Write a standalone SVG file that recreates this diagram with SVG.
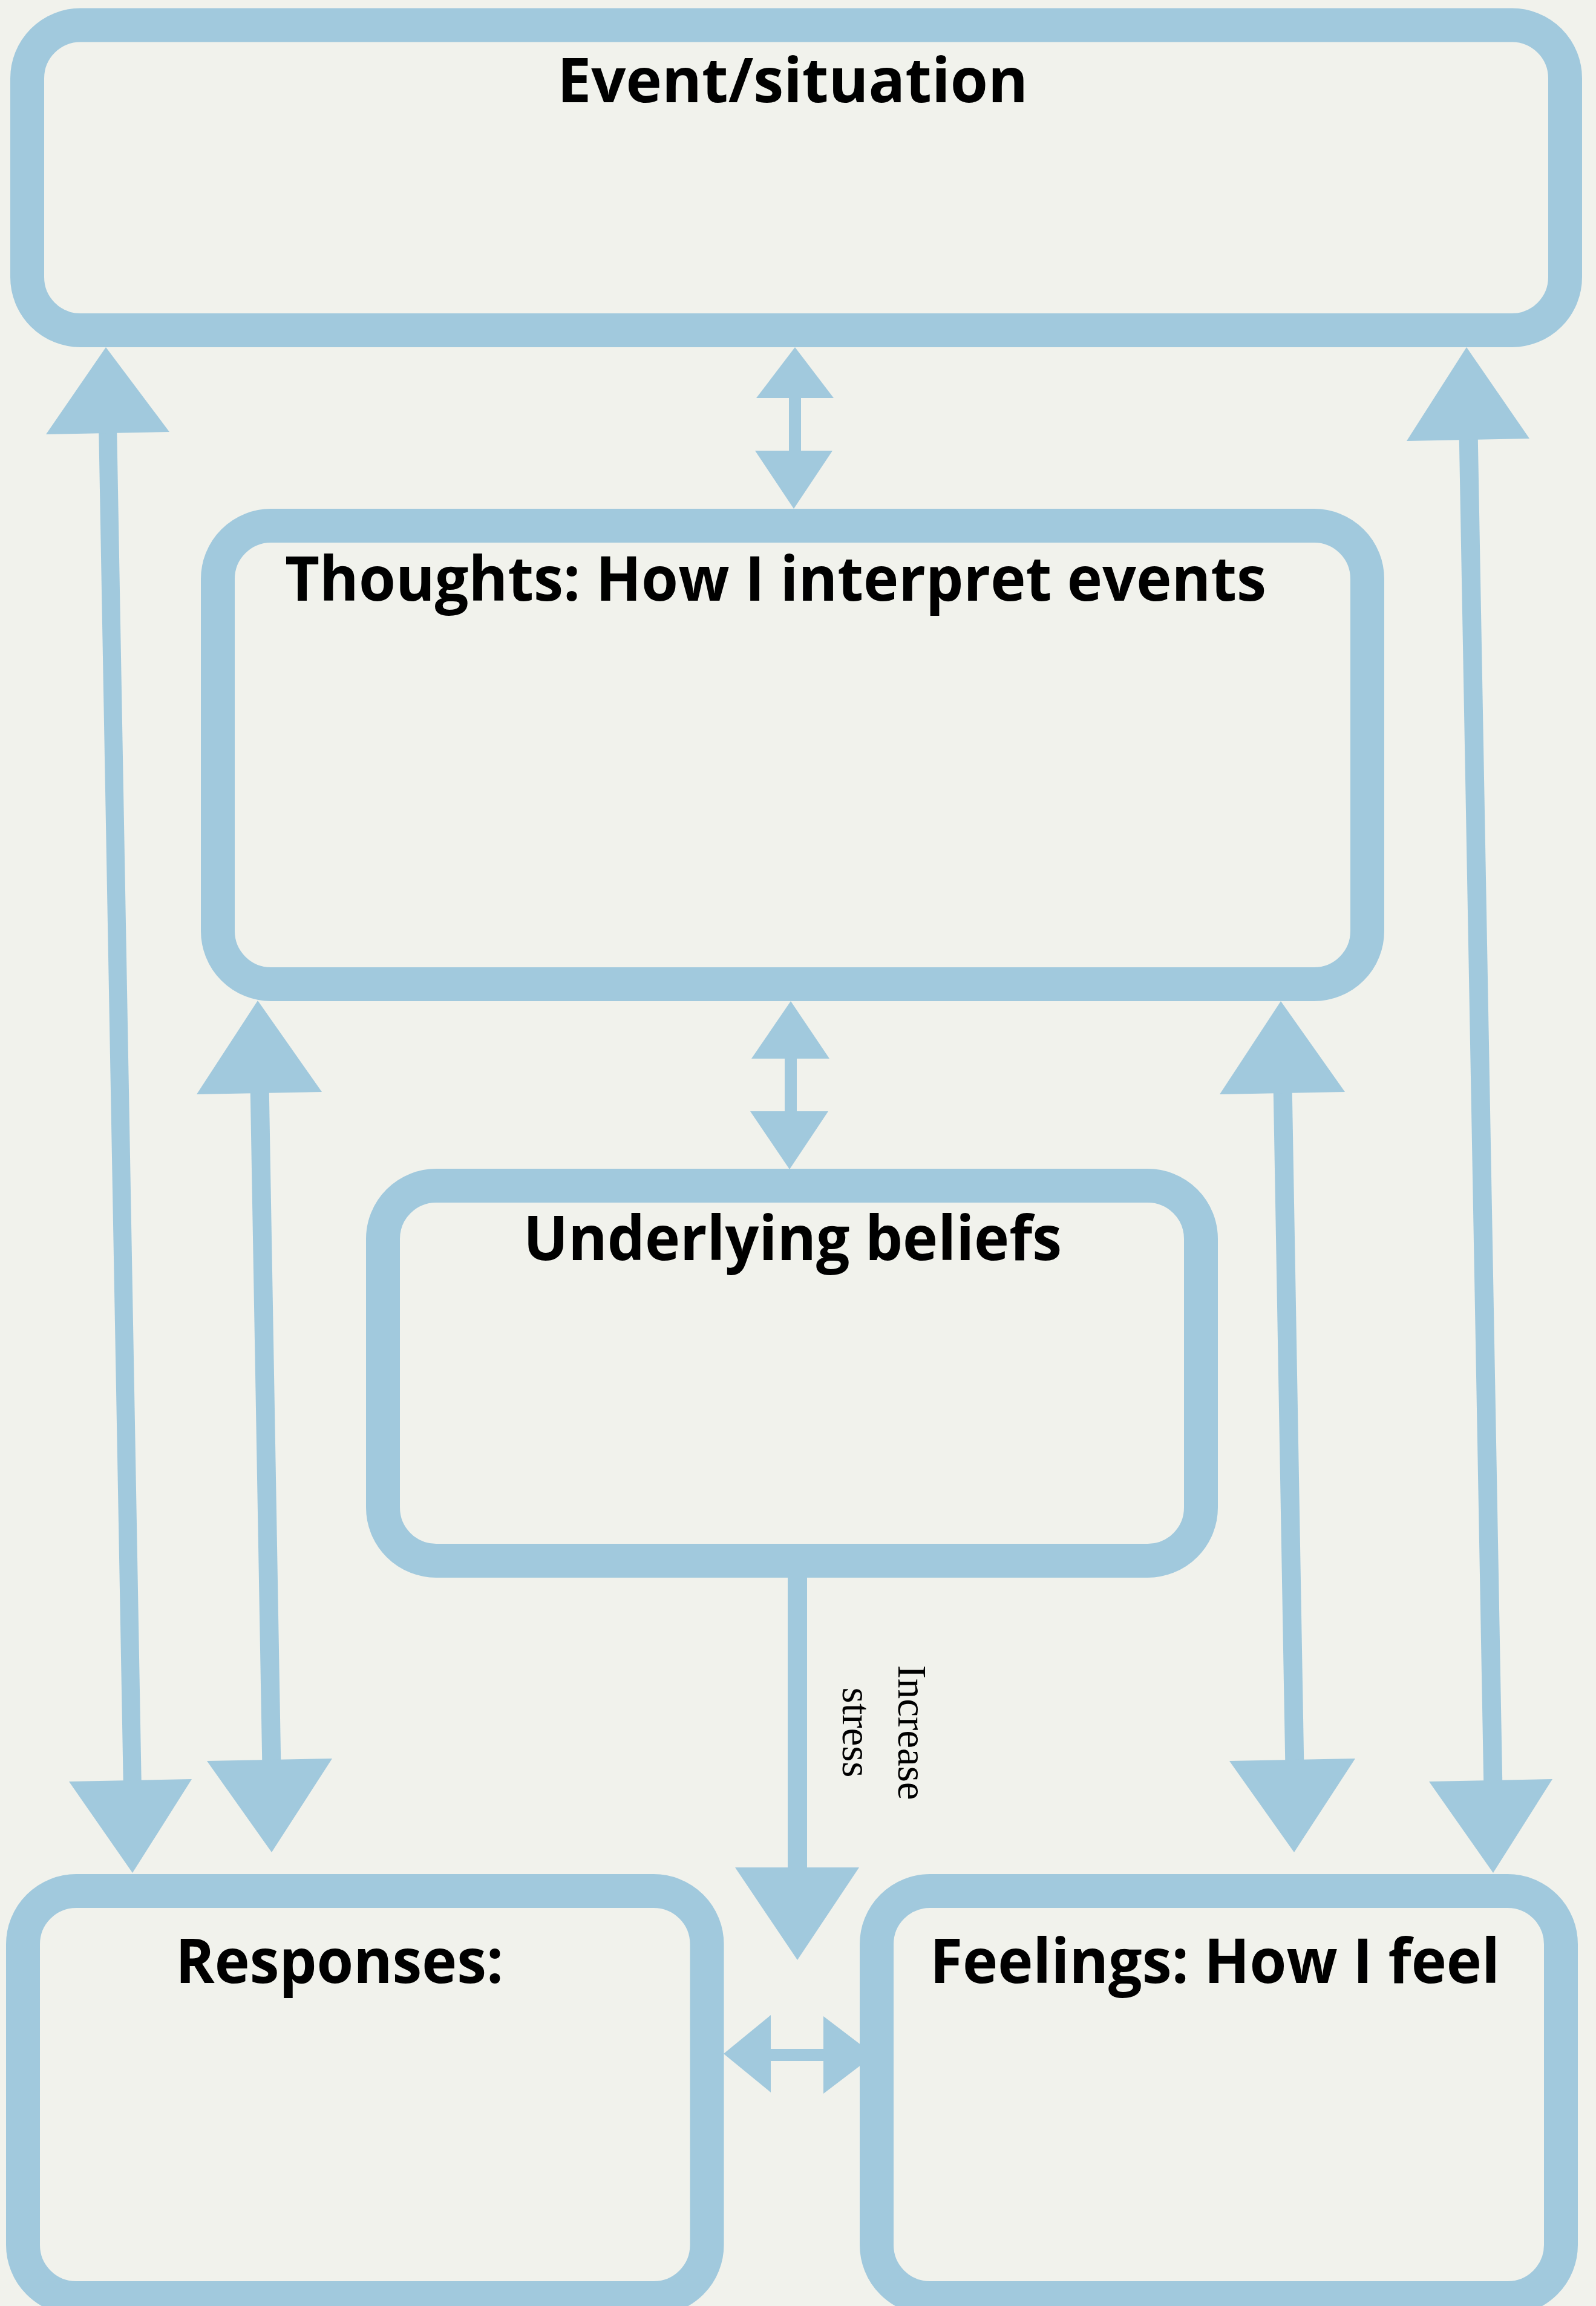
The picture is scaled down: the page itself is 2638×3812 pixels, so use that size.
<svg xmlns="http://www.w3.org/2000/svg" width="2638" height="3812" viewBox="0 0 2638 3812">
<style>
.box{fill:none;stroke:#A1C9DD;stroke-width:56}
.shaft{stroke:#A1C9DD;fill:none}
.head{fill:#A1C9DD}
.lbl{font-family:"Open Sans","Noto Sans",sans-serif;font-weight:bold;font-size:102px;fill:#000;text-anchor:middle}
.note{font-family:"Liberation Serif",serif;font-size:67px;fill:#000;text-anchor:middle}
</style>
<rect width="2638" height="3812" fill="#F1F2EC"/>
<g id="connectors">
<line class="shaft" x1="178" y1="700" x2="219" y2="2960" stroke-width="30"/>
<polygon class="head" points="175,574 280,714 76,718"/>
<polygon class="head" points="114,2945 317,2941 219,3096"/>
<line class="shaft" x1="429" y1="1790" x2="449" y2="2925" stroke-width="31"/>
<polygon class="head" points="426,1654 532,1805 325,1809"/>
<polygon class="head" points="342,2911 549,2907 449,3062"/>
<line class="shaft" x1="2120" y1="1790" x2="2140" y2="2925" stroke-width="31"/>
<polygon class="head" points="2117,1655 2223,1805 2016,1809"/>
<polygon class="head" points="2032,2911 2240,2907 2139,3062"/>
<line class="shaft" x1="2427" y1="710" x2="2468" y2="2960" stroke-width="31"/>
<polygon class="head" points="2424,574 2528,725 2325,729"/>
<polygon class="head" points="2362,2945 2566,2941 2468,3096"/>
<line class="shaft" x1="1314" y1="650" x2="1314" y2="752" stroke-width="20"/>
<polygon class="head" points="1314,574 1378,658 1250,658"/>
<polygon class="head" points="1248,745 1376,745 1312,841"/>
<line class="shaft" x1="1307" y1="1742" x2="1307" y2="1845" stroke-width="20"/>
<polygon class="head" points="1307,1655 1371,1750 1242,1750"/>
<polygon class="head" points="1240,1837 1369,1837 1305,1933"/>
<line class="shaft" x1="1318" y1="2600" x2="1318" y2="3095" stroke-width="32"/>
<polygon class="head" points="1215,3087 1420,3087 1318,3240"/>
<line class="shaft" x1="1266" y1="3397" x2="1369" y2="3397" stroke-width="20"/>
<polygon class="head" points="1196,3395 1274,3331 1274,3459"/>
<polygon class="head" points="1361,3333 1361,3461 1445,3397"/>
<text class="note" transform="translate(1485,2864) rotate(90)"><tspan x="0" y="0">Increase</tspan><tspan x="0" y="92">stress</tspan></text>
</g>
<g id="event">
<rect class="box" x="45" y="41.5" width="2542" height="504.5" rx="88" ry="88"/>
<text class="lbl" x="1310" y="169" textLength="778" lengthAdjust="spacingAndGlyphs">Event/situation</text>
</g>
<g id="thoughts">
<rect class="box" x="360" y="869" width="1900" height="758" rx="88" ry="88"/>
<text class="lbl" x="1282" y="993" textLength="1622" lengthAdjust="spacingAndGlyphs">Thoughts: How I interpret events</text>
</g>
<g id="beliefs">
<rect class="box" x="633" y="1960" width="1352" height="620" rx="88" ry="88"/>
<text class="lbl" x="1310" y="2083" textLength="890" lengthAdjust="spacingAndGlyphs">Underlying beliefs</text>
</g>
<g id="responses">
<rect class="box" x="38" y="3126" width="1130.5" height="673" rx="88" ry="88"/>
<text class="lbl" x="561" y="3278" textLength="542" lengthAdjust="spacingAndGlyphs">Responses:</text>
</g>
<g id="feelings">
<rect class="box" x="1449" y="3126" width="1131" height="673" rx="88" ry="88"/>
<text class="lbl" x="2008" y="3278" textLength="942" lengthAdjust="spacingAndGlyphs">Feelings: How I feel</text>
</g>
</svg>
